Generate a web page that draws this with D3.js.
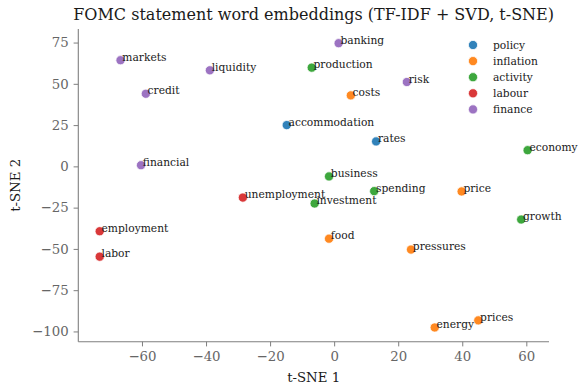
<!DOCTYPE html>
<html>
<head>
<meta charset="utf-8">
<script src="https://cdn.jsdelivr.net/npm/d3@7/dist/d3.min.js"></script>
<style>
  html, body { margin: 0; padding: 0; background: #fff; }
  svg { display: block; }
  text { font-family: "DejaVu Serif", serif; }
</style>
</head>
<body>
<svg id="chart" width="578" height="385"></svg>
<script>
// Word embedding coordinates (t-SNE 1, t-SNE 2) and their topic group
const words  = ["accommodation", "rates", "costs", "price", "food", "pressures", "energy", "prices",
                "production", "business", "spending", "investment", "economy", "growth",
                "unemployment", "employment", "labor",
                "banking", "markets", "liquidity", "credit", "risk", "financial"];
const tsne1  = [-14.8, 13.1, 5.2, 39.8, -1.6, 24.0, 31.4, 45.0,
                -7.0, -1.6, 12.5, -6.1, 60.4, 58.4,
                -28.5, -73.2, -73.2,
                1.4, -66.7, -38.8, -58.8, 22.7, -60.3];
const tsne2  = [25.0, 15.1, 43.0, -15.2, -43.8, -50.4, -97.6, -93.3,
                59.8, -6.1, -15.0, -22.5, 9.8, -32.2,
                -18.9, -39.3, -54.7,
                74.6, 64.3, 58.2, 44.0, 51.1, 0.7];
const groups = ["policy", "policy", "inflation", "inflation", "inflation", "inflation", "inflation", "inflation",
                "activity", "activity", "activity", "activity", "activity", "activity",
                "labour", "labour", "labour",
                "finance", "finance", "finance", "finance", "finance", "finance"];
const groupNames = ["policy", "inflation", "activity", "labour", "finance"];
const xTicks = [-60, -40, -20, 0, 20, 40, 60];
const yTicks = [75, 50, 25, 0, -25, -50, -75, -100];

const points = words.map((w, i) => ({ word: w, x: tsne1[i], y: tsne2[i], group: groups[i] }));

const svg = d3.select("#chart");
const plot = { left: 78.3, right: 549, top: 29, bottom: 341.7 };

// Axis limits padded by 5% of the data range on each side
function padded(values) {
  const [lo, hi] = d3.extent(values);
  const m = (hi - lo) * 0.05;
  return [lo - m, hi + m];
}
const x = d3.scaleLinear().domain(padded(tsne1)).range([plot.left, plot.right]);
const y = d3.scaleLinear().domain(padded(tsne2)).range([plot.bottom, plot.top]);
const color = d3.scaleOrdinal().domain(groupNames)
  .range(["#1f77b4", "#ff7f0e", "#2ca02c", "#d62728", "#9467bd"]);

const spineColor = "#7f7f7f";
const tickTextColor = "#666";

// Axes (left and bottom spines only)
const xAxis = svg.append("g")
  .attr("transform", `translate(0,${plot.bottom})`)
  .call(d3.axisBottom(x).tickValues(xTicks).tickSize(4.7).tickPadding(5)
        .tickFormat(d => d3.format("d")(d).replace("-", "\u2212")));
const yAxis = svg.append("g")
  .attr("transform", `translate(${plot.left},0)`)
  .call(d3.axisLeft(y).tickValues(yTicks).tickSize(4.7).tickPadding(5)
        .tickFormat(d => d3.format("d")(d).replace("-", "\u2212")));

[xAxis, yAxis].forEach(g => {
  g.select(".domain").attr("stroke", spineColor).attr("stroke-width", 1.1)
    .attr("d", null);
  g.selectAll(".tick line").attr("stroke", spineColor).attr("stroke-width", 1);
  g.selectAll(".tick text").attr("fill", tickTextColor)
    .style("font-family", "DejaVu Serif").style("font-size", "13.3px");
});
// Spines drawn across the full plot extent
xAxis.select(".domain").remove();
yAxis.select(".domain").remove();
svg.append("line").attr("x1", plot.left).attr("x2", plot.right)
  .attr("y1", plot.bottom).attr("y2", plot.bottom)
  .attr("stroke", spineColor).attr("stroke-width", 1.1);
svg.append("line").attr("x1", plot.left).attr("x2", plot.left)
  .attr("y1", plot.top).attr("y2", plot.bottom)
  .attr("stroke", spineColor).attr("stroke-width", 1.1);

// Scatter points
svg.append("g").selectAll("circle").data(points).join("circle")
  .attr("cx", d => x(d.x)).attr("cy", d => y(d.y)).attr("r", 4.6)
  .attr("fill", d => color(d.group)).attr("fill-opacity", 0.92)
  .attr("stroke", "#fff").attr("stroke-width", 0.75);

// Word labels just right of each point
svg.append("g").selectAll("text").data(points).join("text")
  .attr("x", d => x(d.x) + 1.8).attr("y", d => y(d.y) + 0.5)
  .attr("fill", "#1a1a1a").style("font-size", "10.7px")
  .text(d => d.word);

// Title and axis labels
svg.append("text").attr("x", (plot.left + plot.right) / 2).attr("y", 20)
  .attr("text-anchor", "middle").attr("fill", "#1a1a1a").style("font-size", "16px")
  .text("FOMC statement word embeddings (TF-IDF + SVD, t-SNE)");
svg.append("text").attr("x", (plot.left + plot.right) / 2).attr("y", 382)
  .attr("text-anchor", "middle").attr("fill", "#1a1a1a").style("font-size", "13.3px")
  .text("t-SNE 1");
svg.append("text")
  .attr("transform", `translate(20,${(plot.top + plot.bottom) / 2}) rotate(-90)`)
  .attr("text-anchor", "middle").attr("fill", "#1a1a1a").style("font-size", "13.3px")
  .text("t-SNE 2");

// Legend
const legend = svg.append("g").attr("transform", "translate(473,45)");
const rows = legend.selectAll("g").data(groupNames).join("g")
  .attr("transform", (d, i) => `translate(0,${i * 16.1})`);
rows.append("circle").attr("r", 4.6).attr("fill", d => color(d)).attr("fill-opacity", 0.92)
  .attr("stroke", "#fff").attr("stroke-width", 0.75);
rows.append("text").attr("x", 20).attr("y", 3.8)
  .attr("fill", "#1a1a1a").style("font-size", "10.7px").text(d => d);
</script>
</body>
</html>
